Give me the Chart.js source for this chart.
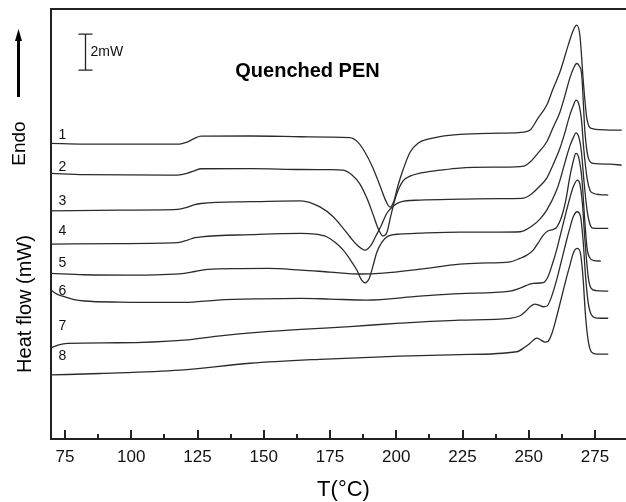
<!DOCTYPE html>
<html><head><meta charset="utf-8">
<script src="https://cdn.jsdelivr.net/npm/chart.js@4.4.1/dist/chart.umd.min.js"></script>
<style>html,body{margin:0;padding:0;background:#fff;overflow:hidden}canvas{display:block}</style>
</head><body>
<canvas id="c" width="626" height="502"></canvas>
<script>
// Temperature (°C) and heat flow (mW, curves offset for display)
const temps1 = [69.7,82.2,117.5,121.3,124.0,126.3,145.2,164.0,174.9,182.5,185.5,188.2,191.2,194.5,196.1,197.6,199.1,200.6,202.5,205.2,208.2,211.6,216.5,224.0,239.1,248.2,250.5,253.5,256.8,259.1,261.8,264.9,266.8,268.1,269.3,270.6,271.9,272.7,273.7,276.9,280.6,285.1];
const heat1  = [16.43,16.39,16.39,16.52,16.72,16.83,16.84,16.80,16.78,16.75,16.50,15.94,15.06,13.83,13.22,12.89,13.22,14.06,14.94,15.94,16.44,16.65,16.81,16.93,17.00,17.06,17.17,17.83,18.56,19.44,20.41,21.89,22.72,23.00,22.44,19.85,17.83,17.39,17.26,17.19,17.17,17.17];

const temps2 = [69.7,82.2,117.5,121.3,124.0,126.3,145.2,164.0,174.9,179.9,183.3,186.3,188.9,191.2,193.1,195.0,196.5,198.0,199.9,202.5,205.2,208.9,216.5,224.0,239.1,248.2,250.5,253.5,256.8,259.1,261.8,263.7,265.5,266.9,268.1,269.1,270.0,271.2,272.5,274.3,280.6,285.1];
const heat2  = [14.76,14.69,14.67,14.78,14.92,15.02,15.03,14.98,14.97,14.94,14.67,14.17,13.39,12.50,11.72,11.28,11.50,12.44,13.50,14.33,14.61,14.78,14.94,15.06,15.11,15.17,15.39,15.89,16.52,17.28,18.18,19.11,20.06,20.61,20.87,20.72,20.22,17.07,15.61,15.32,15.28,15.22];

const temps3 = [69.7,95.7,117.5,121.3,124.0,126.3,145.2,164.0,171.2,176.2,179.9,182.5,185.2,188.2,190.5,192.3,194.2,196.5,198.8,201.4,208.9,224.0,239.1,247.4,250.5,254.2,256.8,259.1,261.8,263.7,265.5,266.9,267.8,268.9,269.9,270.8,272.0,273.1,274.2,276.9,280.0];
const heat3  = [12.68,12.72,12.76,12.89,13.03,13.09,13.19,13.24,12.90,12.35,11.72,11.24,10.78,10.50,10.78,11.28,11.83,12.56,12.94,13.17,13.28,13.33,13.36,13.37,13.56,14.06,14.50,15.22,16.17,17.06,18.00,18.56,18.83,18.61,17.72,16.06,14.50,13.83,13.67,13.58,13.56];

const temps4 = [69.7,95.7,117.5,121.3,124.0,126.3,145.2,164.0,169.3,173.7,176.9,180.0,182.5,185.1,186.7,188.2,189.7,191.2,192.7,194.6,196.9,201.4,208.9,224.0,239.1,246.7,251.7,254.2,256.8,260.5,261.8,263.7,265.5,266.9,267.8,268.9,269.9,270.8,272.0,273.1,274.2,276.9,280.0];
const heat4  = [10.83,10.86,10.91,11.06,11.19,11.24,11.36,11.43,11.39,11.24,10.94,10.50,10.00,9.39,8.89,8.68,8.89,9.61,10.39,10.94,11.28,11.39,11.44,11.50,11.50,11.52,11.89,12.22,12.72,13.83,14.39,15.39,16.28,16.78,17.02,16.78,15.94,14.39,12.72,11.94,11.72,11.71,11.71];

const temps5 = [69.7,82.2,99.5,120.0,124.0,128.8,141.0,151.5,164.0,174.9,186.3,195.0,208.9,224.0,231.6,243.0,246.7,249.3,251.7,253.5,255.5,257.2,259.1,260.6,262.4,264.0,265.5,266.9,267.8,268.9,270.1,271.0,272.0,273.1,274.6,277.2];
const heat5  = [9.21,9.13,9.11,9.21,9.31,9.43,9.47,9.48,9.39,9.28,9.17,9.22,9.44,9.72,9.78,9.85,10.04,10.22,10.50,10.89,11.33,11.56,11.64,11.78,12.35,13.28,14.57,15.50,15.87,15.61,14.39,12.44,10.61,10.06,9.92,9.89];

const temps6 = [69.7,71.6,74.7,78.4,82.3,95.7,120.0,132.6,148.6,164.0,174.9,188.8,208.9,224.0,243.0,246.7,251.7,255.5,257.2,258.8,260.5,262.4,264.3,265.5,266.8,268.3,269.3,270.3,271.2,272.5,273.5,275.4,280.0];
const heat6  = [8.28,8.08,7.91,7.75,7.67,7.61,7.59,7.72,7.79,7.82,7.78,7.72,7.94,8.08,8.22,8.39,8.65,8.69,9.00,9.67,10.50,11.61,12.72,13.39,14.02,14.39,14.17,13.00,11.06,8.94,8.39,8.25,8.22];

const temps7 = [69.7,72.3,76.0,94.9,120.0,132.6,148.6,164.0,182.5,201.4,224.0,243.0,246.7,248.9,250.5,252.3,253.9,255.5,256.9,258.4,260.5,262.4,264.3,265.5,266.8,268.3,269.5,270.5,271.4,272.4,273.7,275.7,280.0];
const heat7  = [5.07,5.22,5.32,5.35,5.50,5.72,5.94,6.09,6.25,6.44,6.61,6.71,6.85,7.11,7.35,7.50,7.44,7.35,7.39,7.83,8.83,9.94,11.06,11.72,12.35,12.63,12.39,11.06,9.11,7.61,6.89,6.72,6.71];

const temps8 = [69.7,88.2,118.4,144.8,171.2,201.4,224.0,245.4,248.6,250.5,253.0,254.6,256.1,257.2,258.8,260.5,262.4,264.3,265.5,266.8,268.3,269.5,270.5,271.4,272.4,273.7,275.7,280.0];
const heat8  = [3.56,3.64,3.83,4.21,4.43,4.61,4.69,4.85,5.11,5.32,5.61,5.50,5.39,5.42,5.89,6.78,7.89,9.00,9.64,10.33,10.59,10.33,8.94,6.89,5.50,4.83,4.72,4.72];

const curveNames = ['1','2','3','4','5','6','7','8'];
const labelHeat = [16.89,15.13,13.21,11.54,9.76,8.22,6.26,4.61];
const xTicks = [75,100,125,150,175,200,225,250,275];
const xMinorTicks = [87.5,112.5,137.5,162.5,187.5,212.5,237.5,262.5];
const scaleBarMW = 2;

const seriesT = [temps1,temps2,temps3,temps4,temps5,temps6,temps7,temps8];
const seriesH = [heat1,heat2,heat3,heat4,heat5,heat6,heat7,heat8];

const datasets = seriesT.map((t,i)=>({
  label: curveNames[i],
  data: t.map((v,j)=>({x:v, y:seriesH[i][j]})),
  showLine: true, borderColor:'#2b2b2b', borderWidth:1.3,
  pointRadius:0, cubicInterpolationMode:'monotone', fill:false
}));

const FONT = '"Liberation Sans", Arial, sans-serif';
const decor = {
  id:'decor',
  afterDraw(chart){
    const {ctx, chartArea:a, scales:{x,y}} = chart;
    ctx.save();
    ctx.strokeStyle='#222'; ctx.lineWidth=2;
    ctx.beginPath(); ctx.moveTo(a.left-1, a.top); ctx.lineTo(a.right, a.top); ctx.stroke();
    xTicks.forEach(v=>{const px=Math.round(x.getPixelForValue(v));
      ctx.beginPath(); ctx.moveTo(px,a.bottom); ctx.lineTo(px,a.bottom-9); ctx.stroke();});
    xMinorTicks.forEach(v=>{const px=Math.round(x.getPixelForValue(v));
      ctx.beginPath(); ctx.moveTo(px,a.bottom); ctx.lineTo(px,a.bottom-5); ctx.stroke();});
    // curve numbers
    ctx.fillStyle='#111'; ctx.font='14px '+FONT; ctx.textAlign='center'; ctx.textBaseline='middle';
    curveNames.forEach((n,i)=>ctx.fillText(n, a.left+11.5, y.getPixelForValue(labelHeat[i])));
    // scale bar
    const bx = Math.round(a.left+34)+0.5;
    const yTop = y.getPixelForValue(22.5), yBot = y.getPixelForValue(22.5-scaleBarMW);
    ctx.lineWidth=1.3; ctx.strokeStyle='#222';
    ctx.beginPath(); ctx.moveTo(bx,yTop); ctx.lineTo(bx,yBot);
    ctx.moveTo(bx-7,yTop); ctx.lineTo(bx+7,yTop);
    ctx.moveTo(bx-7,yBot); ctx.lineTo(bx+7,yBot); ctx.stroke();
    ctx.font='14px '+FONT; ctx.textAlign='left'; ctx.textBaseline='middle';
    ctx.fillText('2mW', bx+5, (yTop+yBot)/2);
    // title
    ctx.fillStyle='#000'; ctx.font='bold 20px '+FONT; ctx.textAlign='center'; ctx.textBaseline='alphabetic';
    ctx.fillText('Quenched PEN', 307.5, 77);
    // x title
    ctx.font='22px '+FONT; ctx.fillText('T(°C)', 343.5, 496);
    // y texts
    ctx.save(); ctx.translate(31,304); ctx.rotate(-Math.PI/2);
    ctx.font='20px '+FONT; ctx.textAlign='center'; ctx.fillText('Heat flow (mW)',0,0); ctx.restore();
    ctx.save(); ctx.translate(25,143.5); ctx.rotate(-Math.PI/2);
    ctx.font='19px '+FONT; ctx.textAlign='center'; ctx.fillText('Endo',0,0); ctx.restore();
    // arrow
    ctx.fillStyle='#000'; ctx.fillRect(17,39,3,58);
    ctx.beginPath(); ctx.moveTo(18.5,29); ctx.lineTo(15,41); ctx.lineTo(22,41); ctx.closePath(); ctx.fill();
    ctx.restore();
  }
};

new Chart(document.getElementById('c').getContext('2d'), {
  type:'scatter',
  data:{datasets},
  options:{
    responsive:false, animation:false, events:[],
    layout:{padding:{left:51, top:9, right:0, bottom:0}},
    plugins:{legend:{display:false}, tooltip:{enabled:false}, title:{display:false}},
    scales:{
      x:{type:'linear', min:69.7, max:286.7,
         grid:{display:false, drawTicks:false},
         border:{display:true, color:'#222', width:2},
         ticks:{font:{family:FONT, size:17}, color:'#111', padding:8, maxRotation:0, autoSkip:false},
         afterBuildTicks:s=>{s.ticks = xTicks.map(v=>({value:v}));},
         afterFit:s=>{s.height=63;}},
      y:{type:'linear', min:0, max:23.9,
         grid:{display:false, drawTicks:false},
         border:{display:true, color:'#222', width:2},
         ticks:{display:false},
         afterFit:s=>{s.width=0;}}
    }
  },
  plugins:[decor]
});
</script>
</body></html>
